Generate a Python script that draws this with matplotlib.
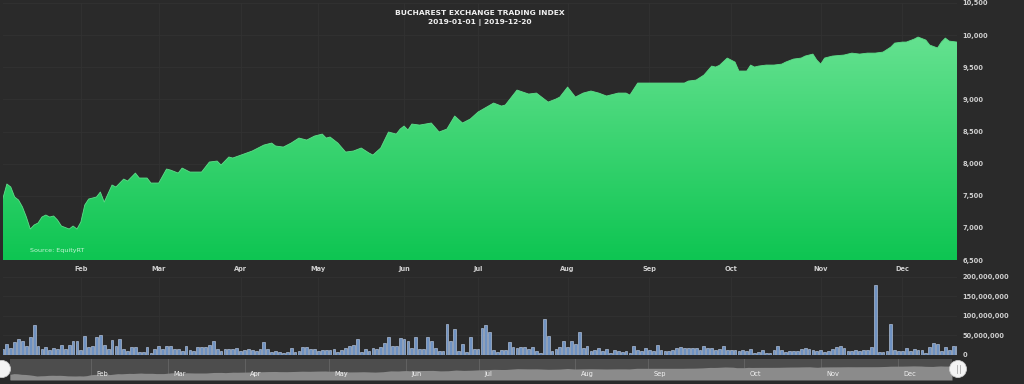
import numpy as np
import pandas as pd
import matplotlib
matplotlib.use('Agg')
import matplotlib.pyplot as plt
from matplotlib.colors import LinearSegmentedColormap
from matplotlib.patches import Circle

# Trading calendar (BVB), 2019-01-03 .. 2019-12-20
holidays = ['2019-01-24', '2019-04-26', '2019-04-29', '2019-05-01', '2019-06-17', '2019-08-15']
sessions = pd.bdate_range('2019-01-03', '2019-12-20').drop(pd.to_datetime(holidays))

# BET index close, read at these session numbers
price_session = [0, 1, 2, 3, 4, 5, 6, 7, 8, 9, 10, 11, 12, 13, 14, 15, 17, 18, 19, 20,
                 21, 22, 24, 25, 26, 28, 29, 31, 32, 34, 35, 37, 38, 40, 42, 43, 45, 46, 48, 51,
                 53, 55, 56, 58, 59, 61, 64, 67, 69, 70, 72, 74, 76, 78, 80, 82, 83, 84, 86, 88,
                 90, 92, 94, 95, 97, 99, 101, 102, 103, 104, 105, 107, 110, 112, 114, 116, 118, 120, 122, 126,
                 128, 129, 132, 135, 137, 140, 142, 143, 145, 147, 149, 151, 153, 155, 158, 160, 161, 163, 165, 169,
                 172, 175, 176, 178, 180, 182, 183, 184, 186, 188, 189, 191, 192, 193, 194, 196, 198, 200, 201, 203,
                 205, 206, 208, 209, 210, 211, 213, 216, 218, 220, 222, 224, 226, 228, 229, 231, 232, 234, 235, 237,
                 238, 240, 241, 242, 243, 245]
price_value = [7465, 7683, 7636, 7480, 7433, 7325, 7169, 6982, 7045, 7076, 7169, 7200, 7169, 7185, 7122, 7029, 6982, 7029, 6982, 7091,
               7356, 7449, 7480, 7558, 7402, 7667, 7636, 7760, 7729, 7853, 7776, 7776, 7698, 7698, 7916, 7900, 7853, 7931, 7869, 7869,
               8025, 8040, 7978, 8103, 8087, 8130, 8196, 8289, 8320, 8274, 8258, 8320, 8398, 8367, 8429, 8460, 8398, 8414, 8320, 8180,
               8196, 8243, 8165, 8134, 8243, 8492, 8460, 8538, 8585, 8523, 8616, 8600, 8632, 8492, 8538, 8741, 8632, 8694, 8803, 8943,
               8896, 8912, 9145, 9083, 9098, 8958, 9005, 9036, 9192, 9036, 9098, 9130, 9098, 9052, 9098, 9098, 9067, 9254, 9254, 9254,
               9254, 9254, 9285, 9300, 9378, 9518, 9503, 9530, 9643, 9580, 9441, 9441, 9534, 9503, 9518, 9534, 9534, 9549, 9580, 9627,
               9643, 9674, 9705, 9612, 9549, 9643, 9674, 9690, 9720, 9705, 9720, 9720, 9736, 9814, 9876, 9892, 9892, 9938, 9970, 9923,
               9845, 9800, 9892, 9954, 9907, 9892]

# daily volume, millions of shares (one per session)
volume_m = [15, 27, 17, 32, 41, 36, 22, 46, 77, 23, 15, 19, 13, 17, 14, 26, 14, 24, 34, 34,
            13, 49, 21, 23, 46, 50, 26, 15, 37, 22, 41, 15, 10, 19, 21, 7, 7, 20, 4, 15,
            23, 15, 23, 23, 15, 15, 9, 23, 13, 9, 21, 19, 19, 24, 36, 15, 10, 15, 15, 15,
            17,
            10, 13, 15, 13, 9, 15, 33, 15, 7, 10, 6, 4, 6, 17, 7, 10, 20, 20, 15, 15,
            9, 13, 13, 13, 15, 7, 13, 17, 22, 24, 41, 7, 15, 10, 17, 15, 20, 30, 46, 22,
            22, 43, 40, 36, 17, 46, 15, 15, 46, 36, 17, 9, 10, 80, 36, 67, 10, 28, 7, 46,
            15, 15,
            69, 77, 58, 11, 7, 13, 13, 33,
            20, 17, 21, 20, 14, 20, 9, 5, 91, 48, 9, 14, 21, 35, 21, 35, 28, 58, 17, 22,
            9, 13, 17, 9, 15, 5, 11, 9, 7, 9, 5, 22, 11, 9, 18, 11, 9, 26, 13, 9,
            9, 11, 18, 20, 18, 18, 18, 18, 13, 22, 18, 18, 13, 15, 22, 11, 11, 13, 9, 13,
            9, 15, 5, 7, 13, 5, 5, 11, 22, 11, 7, 9, 9, 9, 15, 18, 14, 11, 9, 13,
            7, 9, 14, 20, 22, 18, 9, 9, 11, 9, 11, 11, 21, 180, 7, 7, 9, 78, 13, 9,
            9, 18, 9, 15, 13, 13, 5, 20, 30, 27, 9, 20, 11, 22, 22]

n = len(sessions)
volume_m = volume_m[:n] + [volume_m[-1]] * (n - len(volume_m))

bg = '#2a2a2a'
W, H = 1024, 384
fig = plt.figure(figsize=(W / 100, H / 100), dpi=100, facecolor=bg)

def px_axes(x0, y0, x1, y1):
    # pixel box (top-left origin) -> figure axes
    return fig.add_axes([x0 / W, 1 - y1 / H, (x1 - x0) / W, (y1 - y0) / H])

months = sessions.month.values
first_day = [int(np.argmax(months == m)) for m in range(2, 13)]
first_monday = [int(np.argmax((months == m) & (sessions.weekday.values == 0))) for m in range(2, 13)]
month_names = [sessions[i].strftime('%b') for i in first_day]
label_col = '#cfcfcf'

# ---- price panel
ax = px_axes(3, 3, 957, 260)
ax.set_facecolor(bg)
ax.set_xlim(0, n - 1)
ax.set_ylim(6500, 10500)
for s in ax.spines.values():
    s.set_visible(False)
ax.set_axisbelow(True)
ax.grid(True, color='#323232', lw=0.6)
ax.set_xticks(first_day)
ax.set_xticklabels(month_names)
ax.set_yticks(np.arange(6500, 10501, 500))
ax.set_yticklabels([f'{v:,}' for v in range(6500, 10501, 500)])
ax.yaxis.tick_right()
ax.tick_params(length=0, labelsize=4.8, colors=label_col)
ax.tick_params(axis='y', pad=4)
ax.tick_params(axis='x', pad=4)
for t in ax.get_xticklabels() + ax.get_yticklabels():
    t.set_fontweight('bold')

poly = ax.fill_between(price_session, price_value, 6500, color='none', lw=0)
cmap = LinearSegmentedColormap.from_list('grn', ['#0ec552', '#3fd574', '#72e69a'])
grad = np.linspace(0, 1, 256).reshape(-1, 1)
im = ax.imshow(grad, extent=[0, n - 1, 6500, 10500], origin='lower', aspect='auto',
               cmap=cmap, zorder=2)
im.set_clip_path(poly.get_paths()[0], transform=ax.transData)
ax.plot(price_session, price_value, color='#5ede8a', lw=0.6, zorder=3)

ax.text(0.028, 0.03, 'Source: EquityRT', transform=ax.transAxes, fontsize=4.6,
        color='#c3f3d3', zorder=4)

fig.text(480 / W, 1 - 13 / H, 'BUCHAREST EXCHANGE TRADING INDEX', ha='center', va='center',
         fontsize=5.4, fontweight='bold', color='#f0f0f0')
fig.text(480 / W, 1 - 22 / H, '2019-01-01 | 2019-12-20', ha='center', va='center',
         fontsize=5.4, fontweight='bold', color='#f0f0f0')

# ---- volume panel
axv = px_axes(3, 277, 957, 354.7)
axv.set_facecolor(bg)
axv.set_xlim(0, n - 1)
axv.set_ylim(0, 200e6)
for s in axv.spines.values():
    s.set_visible(False)
axv.set_axisbelow(True)
axv.grid(True, color='#323232', lw=0.6)
axv.bar(np.arange(n), np.array(volume_m) * 1e6, width=0.72, color='#6f92c2',
        edgecolor='#c6d6ee', linewidth=0.4, zorder=2)
axv.set_xticks(first_day)
axv.set_xticklabels([])
vt = np.arange(0, 200e6 + 1, 50e6)
axv.set_yticks(vt)
axv.set_yticklabels([f'{int(v):,}' for v in vt])
axv.yaxis.tick_right()
axv.tick_params(length=0, labelsize=4.8, colors=label_col, pad=4)
for t in axv.get_yticklabels():
    t.set_fontweight('bold')

# ---- navigator
axn = px_axes(10, 359, 952, 380)
axn.set_facecolor('#4d4d4d')
axn.set_xlim(0, n - 1)
axn.set_ylim(5800, 12000)
for s in axn.spines.values():
    s.set_visible(False)
axn.set_xticks([])
axn.set_yticks([])
for i in first_monday:
    axn.axvline(i, color='#666666', lw=0.6, zorder=1)
axn.fill_between(price_session, price_value, 5800, color='#8b8b8b', lw=0, zorder=2)
for i, name in zip(first_monday, month_names):
    axn.text(i + 1.4, 0.27, name, transform=axn.get_xaxis_transform(), fontsize=4.8,
             color='#f2f2f2', ha='left', va='center', zorder=3)

# handles
ov = fig.add_axes([0, 0, 1, 1])
ov.set_xlim(0, W)
ov.set_ylim(H, 0)
ov.axis('off')
ov.patch.set_alpha(0)
ov.add_patch(Circle((2, 369), 8.5, fc='#f4f4f4', ec='#cccccc', lw=0.6))
ov.add_patch(Circle((958, 369), 8.5, fc='#f4f4f4', ec='#cccccc', lw=0.6))
for xx in (956.5, 959.5):
    ov.plot([xx, xx], [365, 373], color='#aaaaaa', lw=0.6)

fig.savefig('out.png', dpi=100, facecolor=bg)
